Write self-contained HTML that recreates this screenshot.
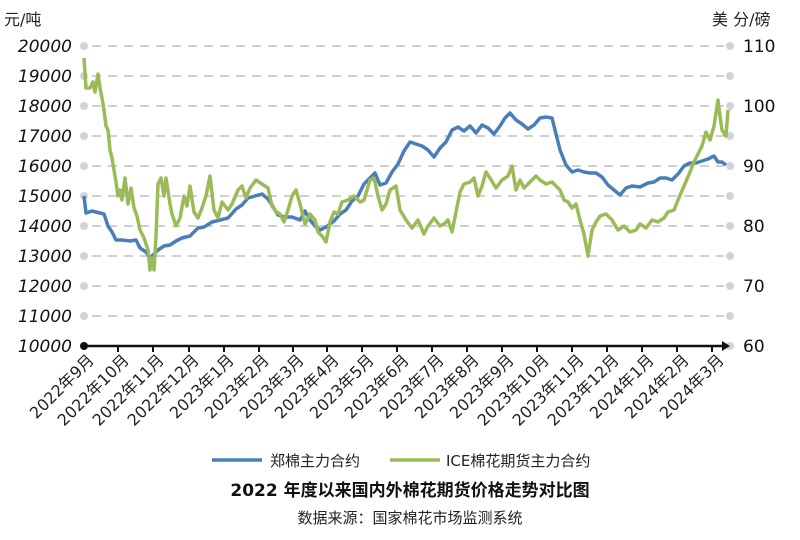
<!DOCTYPE html>
<html><head><meta charset="utf-8"><style>
body{margin:0;background:#fff;}
svg text{font-family:"DejaVu Sans","Noto Sans CJK SC",sans-serif;}
</style></head><body>
<svg width="800" height="535" viewBox="0 0 800 535" xmlns="http://www.w3.org/2000/svg">
<rect width="800" height="535" fill="#fff"/>
<text x="4" y="25" font-size="16" fill="#222">元/吨</text>
<text x="712" y="25" font-size="16" fill="#222">美 分/磅</text>
<g stroke="#d0d0d0" stroke-width="2" stroke-dasharray="9,7">
<line x1="92" y1="46" x2="724" y2="46"/><line x1="92" y1="76" x2="724" y2="76"/>
<line x1="92" y1="106" x2="724" y2="106"/><line x1="92" y1="136" x2="724" y2="136"/>
<line x1="92" y1="166" x2="724" y2="166"/><line x1="92" y1="196" x2="724" y2="196"/>
<line x1="92" y1="226" x2="724" y2="226"/><line x1="92" y1="256" x2="724" y2="256"/>
<line x1="92" y1="286" x2="724" y2="286"/><line x1="92" y1="316" x2="724" y2="316"/>
</g>
<g fill="#d3d3d3">
<circle cx="84" cy="46" r="4"/><circle cx="84" cy="76" r="4"/><circle cx="84" cy="106" r="4"/><circle cx="84" cy="136" r="4"/><circle cx="84" cy="166" r="4"/><circle cx="84" cy="196" r="4"/><circle cx="84" cy="226" r="4"/><circle cx="84" cy="256" r="4"/><circle cx="84" cy="286" r="4"/><circle cx="84" cy="316" r="4"/>
<circle cx="730" cy="46" r="4"/><circle cx="730" cy="76" r="4"/><circle cx="730" cy="106" r="4"/><circle cx="730" cy="136" r="4"/><circle cx="730" cy="166" r="4"/><circle cx="730" cy="196" r="4"/><circle cx="730" cy="226" r="4"/><circle cx="730" cy="256" r="4"/><circle cx="730" cy="286" r="4"/><circle cx="730" cy="316" r="4"/><circle cx="730" cy="346" r="4"/>
</g>
<g font-size="17" font-style="oblique" fill="#111" text-anchor="end" transform="skewX(0)">
<text x="72" y="52">20000</text><text x="72" y="82">19000</text><text x="72" y="112">18000</text><text x="72" y="142">17000</text><text x="72" y="172">16000</text><text x="72" y="202">15000</text><text x="72" y="232">14000</text><text x="72" y="262">13000</text><text x="72" y="292">12000</text><text x="72" y="322">11000</text><text x="72" y="352">10000</text>
</g>
<g font-size="17" fill="#111">
<text x="743" y="52">110</text><text x="743" y="112">100</text><text x="743" y="172">90</text><text x="743" y="232">80</text><text x="743" y="292">70</text><text x="743" y="352">60</text>
</g>
<line x1="84" y1="346" x2="728" y2="346" stroke="#111" stroke-width="2.5"/>
<circle cx="84" cy="346" r="4" fill="#111"/>
<polygon points="722,341 730,346 722,351" fill="#111"/>
<g stroke="#111" stroke-width="2">
<line x1="118" y1="346" x2="118" y2="352"/><line x1="153" y1="346" x2="153" y2="352"/><line x1="189" y1="346" x2="189" y2="352"/><line x1="224" y1="346" x2="224" y2="352"/><line x1="259" y1="346" x2="259" y2="352"/><line x1="293" y1="346" x2="293" y2="352"/><line x1="327" y1="346" x2="327" y2="352"/><line x1="362" y1="346" x2="362" y2="352"/><line x1="397" y1="346" x2="397" y2="352"/><line x1="432" y1="346" x2="432" y2="352"/><line x1="467" y1="346" x2="467" y2="352"/><line x1="502" y1="346" x2="502" y2="352"/><line x1="537" y1="346" x2="537" y2="352"/><line x1="572" y1="346" x2="572" y2="352"/><line x1="607" y1="346" x2="607" y2="352"/><line x1="642" y1="346" x2="642" y2="352"/><line x1="677" y1="346" x2="677" y2="352"/><line x1="712" y1="346" x2="712" y2="352"/>
</g>
<g font-size="16" fill="#222" text-anchor="end">
<text transform="translate(95,361) rotate(-45)">2022年9月</text>
<text transform="translate(130,361) rotate(-45)">2022年10月</text>
<text transform="translate(165,361) rotate(-45)">2022年11月</text>
<text transform="translate(200,361) rotate(-45)">2022年12月</text>
<text transform="translate(235,361) rotate(-45)">2023年1月</text>
<text transform="translate(270,361) rotate(-45)">2023年2月</text>
<text transform="translate(305,361) rotate(-45)">2023年3月</text>
<text transform="translate(340,361) rotate(-45)">2023年4月</text>
<text transform="translate(375,361) rotate(-45)">2023年5月</text>
<text transform="translate(410,361) rotate(-45)">2023年6月</text>
<text transform="translate(445,361) rotate(-45)">2023年7月</text>
<text transform="translate(480,361) rotate(-45)">2023年8月</text>
<text transform="translate(515,361) rotate(-45)">2023年9月</text>
<text transform="translate(550,361) rotate(-45)">2023年10月</text>
<text transform="translate(585,361) rotate(-45)">2023年11月</text>
<text transform="translate(620,361) rotate(-45)">2023年12月</text>
<text transform="translate(655,361) rotate(-45)">2024年1月</text>
<text transform="translate(690,361) rotate(-45)">2024年2月</text>
<text transform="translate(725,361) rotate(-45)">2024年3月</text>
</g>
<polyline fill="none" stroke="#4a7ebb" stroke-width="3.5" stroke-linejoin="round" points="84,196 86,213 92,211 100,213 104,214 108,226 112,232 116,240 122,240 130,241 136,240 140,248 146,252 150,258 154,254 158,250 164,246 170,245 176,241 182,238 190,236 198,228 204,227 212,222 220,220 228,218 236,209 242,205 248,198 255,196 262,194 268,199 272,205 278,215 284,217 292,217 300,220 305,211 310,220 315,226 320,230 326,227 334,221 340,214 346,210 352,201 358,196 364,184 370,178 375,173 380,185 386,183 392,172 398,164 404,151 410,142 416,144 422,146 428,150 434,157 440,148 446,142 452,130 458,127 464,131 470,126 476,133 482,125 488,128 494,134 500,126 505,118 510,113 516,120 522,124 528,129 534,125 540,118 546,117 552,118 556,134 560,150 566,165 572,172 578,170 584,172 590,173 596,173 602,177 608,185 614,190 620,195 626,188 632,186 640,187 648,183 654,182 660,178 666,178 672,180 678,174 684,166 690,163 696,163 702,161 708,159 714,156 718,162 722,162 726,165"/>
<polyline fill="none" stroke="#9bbb59" stroke-width="3.5" stroke-linejoin="round" points="84,58 86,88 90,88 93,82 95,92 98,74 100,88 102,98 104,110 106,126 108,130 110,150 112,158 116,182 118,196 120,190 122,200 125,178 128,204 131,188 134,208 137,216 140,230 144,238 148,250 150,270 152,258 154,270 156,236 158,184 161,178 164,196 166,178 170,204 172,214 176,226 180,218 184,196 187,206 190,186 194,212 198,218 202,208 206,196 210,176 214,210 218,218 222,202 228,210 232,204 238,190 242,186 246,198 250,188 256,180 262,184 268,188 272,206 276,212 280,214 284,222 288,210 292,196 296,190 300,204 305,224 310,214 315,220 318,232 322,236 326,242 330,222 334,212 338,214 342,202 348,200 354,196 360,202 364,200 370,180 374,178 378,196 382,210 386,204 390,190 396,186 400,210 406,220 412,228 418,220 424,234 428,226 434,218 440,226 444,224 448,220 452,232 456,212 460,192 464,184 470,182 474,178 478,196 482,186 486,172 490,178 496,188 502,180 508,176 512,166 516,190 520,180 524,188 530,182 536,176 540,180 546,184 552,182 556,186 560,190 564,200 568,202 572,208 576,204 580,220 584,234 588,256 592,230 596,222 600,216 606,214 612,220 618,230 624,226 630,232 636,230 640,224 646,228 652,220 658,222 664,218 668,212 674,210 678,200 684,186 690,172 694,162 698,154 702,146 706,132 710,140 714,126 718,100 720,116 722,130 726,136 728,110"/>
<line x1="212" y1="460" x2="262" y2="460" stroke="#4a7ebb" stroke-width="3.5"/>
<text x="270" y="466" font-size="15" fill="#222">郑棉主力合约</text>
<line x1="390" y1="460" x2="440" y2="460" stroke="#9bbb59" stroke-width="3.5"/>
<text x="446" y="466" font-size="15" fill="#222">ICE棉花期货主力合约</text>
<text x="410" y="496" font-size="17" font-weight="bold" fill="#111" text-anchor="middle">2022 年度以来国内外棉花期货价格走势对比图</text>
<text x="410" y="523" font-size="15" fill="#222" text-anchor="middle">数据来源：国家棉花市场监测系统</text>
</svg>
</body></html>
